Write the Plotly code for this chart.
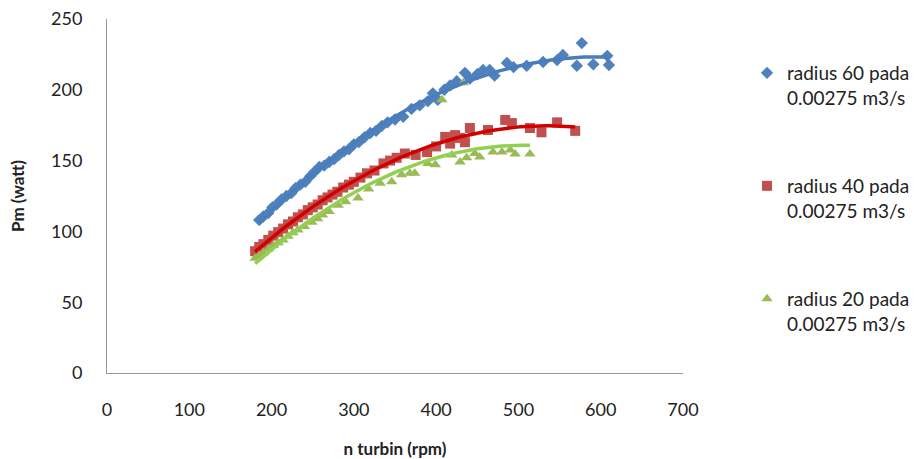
import numpy as np
import plotly.graph_objects as go

# radius 60 (blue diamonds)
r60_rpm = [185, 190, 196, 201, 206, 212, 218, 224, 229, 235, 241, 247, 252, 258, 264, 270,
           276, 282, 288, 294, 300, 306, 313, 320, 327, 334, 341, 350, 360, 370, 380, 390,
           396, 402, 410, 417, 425, 435, 441, 450, 457, 465, 471, 486, 494, 510, 530, 547,
           554, 571, 577, 591, 608, 610]
r60_pm = [108, 110.5, 113, 117, 119, 122.5, 125, 127, 130.5, 133, 135, 139, 142, 145.5, 146.5, 149,
          151, 154, 156.5, 158, 161.5, 163, 166.5, 169.5, 171, 174.5, 177, 179, 181, 186.5, 189, 192,
          197.5, 193, 200, 203, 206, 212, 208, 211, 214, 214, 210, 219, 216, 217, 219.6, 221,
          224.6, 217, 233, 218, 224, 217.5]

# radius 40 (red squares)
r40_rpm = [180, 185, 190, 196, 202, 208, 214, 220, 226, 232, 238, 244, 250, 256, 262, 268,
           274, 280, 287, 294, 300, 308, 316, 325, 336, 344, 352, 362, 375, 389, 400, 411,
           417, 423, 429, 435, 441, 463, 484, 492, 514, 528, 547, 569]
r40_pm = [86, 89, 91, 94, 97, 99.5, 102, 105, 107, 110, 112, 115, 117, 119, 122, 124,
          126, 128, 131, 133, 135, 138, 141, 143, 148, 150, 152, 155, 154, 156, 160, 166.7,
          162, 168, 166, 163, 173, 171.6, 178.7, 176.5, 173, 170, 177, 171]

# radius 20 (green triangles)
r20_rpm = [180, 185, 190, 196, 202, 208, 214, 220, 226, 232, 240, 249, 256, 262, 270, 281,
           290, 305, 318, 332, 346, 358, 368, 374, 390, 399, 407, 419, 429, 433, 437, 447,
           453, 469, 480, 490, 496, 514]
r20_pm = [81, 83, 85, 87.5, 90, 92, 94, 96.5, 99, 101, 103.5, 106.5, 109, 111.5, 114, 118.5,
          121, 123.6, 130, 134, 135, 140, 141, 141, 148, 147, 193, 154, 149, 205, 152, 155,
          152.5, 156, 156, 157.5, 154.7, 154.7]

series_names = ["radius 60 pada<br>0.00275 m3/s",
                "radius 40 pada<br>0.00275 m3/s",
                "radius 20 pada<br>0.00275 m3/s"]
x_ticks = [0, 100, 200, 300, 400, 500, 600, 700]
y_ticks = [0, 50, 100, 150, 200, 250]

marker_colors = ["#4F81BD", "#C0504D", "#9BBB59"]
trend_colors = ["#4A7EBB", "#D00000", "#92D050"]
symbols = ["diamond", "square", "triangle-up"]
sizes = [9.5, 10, 10]
legend_ids = ["legend", "legend2", "legend3"]
legend_tops = [54, 167, 280]

data = [(r60_rpm, r60_pm), (r40_rpm, r40_pm), (r20_rpm, r20_pm)]

fig = go.Figure()
for i, (xs, ys) in enumerate(data):
    xs = np.array(xs, float)
    ys = np.array(ys, float)
    fig.add_trace(go.Scatter(
        x=xs, y=ys, mode="markers", name=series_names[i],
        legend=legend_ids[i],
        marker=dict(symbol=symbols[i], size=sizes[i], color=marker_colors[i],
                    line=dict(width=0)),
    ))
for i, (xs, ys) in enumerate(data):
    xs = np.array(xs, float)
    ys = np.array(ys, float)
    coef = np.polyfit(xs, ys, 2)
    xt = np.linspace(xs.min(), xs.max(), 100)
    fig.add_trace(go.Scatter(
        x=xt, y=np.polyval(coef, xt), mode="lines", showlegend=False,
        line=dict(color=trend_colors[i], width=3.5), hoverinfo="skip",
    ))

font_family = "Lato, 'Open Sans', sans-serif"


def legend_cfg(top):
    return dict(
        xref="container", yref="container", x=747 / 915, y=1 - top / 459,
        xanchor="left", yanchor="top", valign="top",
        font=dict(size=19, color="#222222", family=font_family),
        itemsizing="trace", itemwidth=30,
        bgcolor="rgba(0,0,0,0)",
    )


fig.update_layout(
    width=915, height=459,
    margin=dict(l=107, r=232, t=19, b=86),
    paper_bgcolor="white", plot_bgcolor="white",
    font=dict(family=font_family, size=18, color="#222222"),
    showlegend=True,
    legend=legend_cfg(legend_tops[0]),
    legend2=legend_cfg(legend_tops[1]),
    legend3=legend_cfg(legend_tops[2]),
    xaxis=dict(
        range=[0, 700], tickvals=x_ticks, ticktext=[str(v) for v in x_ticks],
        showgrid=False, zeroline=False, showline=True, linecolor="#999999", linewidth=1,
        ticks="", ticklabelstandoff=20, automargin=False,
        tickfont=dict(size=18),
        title=dict(text="<b>n turbin (rpm)</b>", font=dict(size=17), standoff=24),
    ),
    yaxis=dict(
        range=[0, 250], tickvals=y_ticks, ticktext=[str(v) for v in y_ticks],
        showgrid=False, zeroline=False, showline=True, linecolor="#999999", linewidth=1,
        ticks="", ticklabelstandoff=20, automargin=False,
        tickfont=dict(size=18),
        title=dict(text="<b>Pm (watt)</b>", font=dict(size=17), standoff=22),
    ),
)

fig.write_html("out.html",
               config={"displayModeBar": False},
               post_script="document.body.style.margin='0';document.body.style.overflow='hidden';")
